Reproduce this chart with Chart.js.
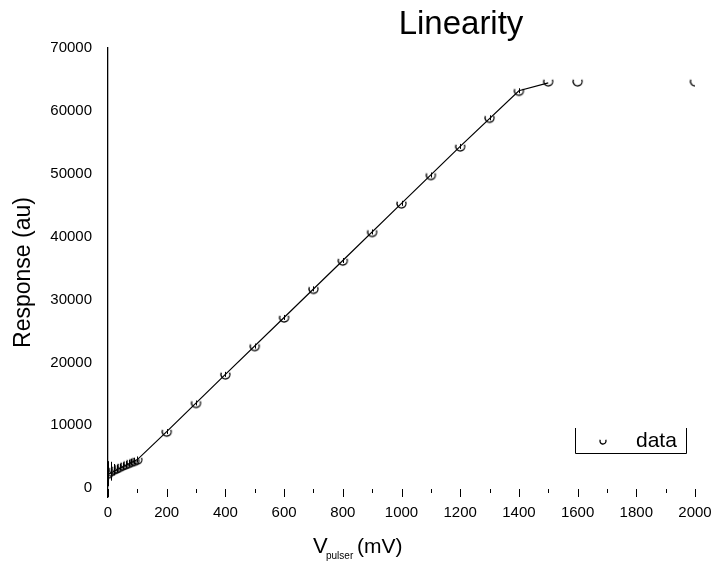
<!DOCTYPE html>
<html>
<head>
<meta charset="utf-8">
<script src="https://cdn.jsdelivr.net/npm/chart.js@4.4.1/dist/chart.umd.min.js"></script>
<style>
  html, body { margin: 0; padding: 0; background: #fff; }
  #wrap { width: 713px; height: 562px; }
</style>
</head>
<body>
<div id="wrap"><canvas id="linChart" width="713" height="562"></canvas></div>
<script>
// pulser voltage (mV) and measured response (au)
const voltages = [0, 10, 20, 30, 40, 50, 60, 70, 80, 90, 100,
  200, 300, 400, 500, 600, 700, 800, 900, 1000, 1100, 1200, 1300, 1400,
  1500, 1600, 2000];
const responses = [2300, 2700, 2950, 3150, 3400, 3600, 3800, 4000, 4200, 4350, 4550,
  9000, 13550, 18100, 22600, 27150, 31700, 36200, 40750, 45300, 49800, 54350, 58900, 63200,
  64700, 64700, 64700];
const errors = [2000, 1500, 900, 600, 500, 500, 500, 500, 500, 500, 500,
  400, 400, 400, 400, 400, 400, 400, 400, 400, 400, 400, 400, 400,
  0, 0, 0];

// fitted curve
const fitVoltages = [0, 50, 100, 200, 400, 600, 800, 1000, 1200, 1400, 1500];
const fitResponses = [2200, 3400, 4550, 9000, 18100, 27150, 36200, 45300, 54350, 63200, 64450];

const xTicks = [0, 200, 400, 600, 800, 1000, 1200, 1400, 1600, 1800, 2000];
const xMinorTicks = [100, 300, 500, 700, 900, 1100, 1300, 1500, 1700, 1900];
const yTicks = [0, 10000, 20000, 30000, 40000, 50000, 60000, 70000];

const FONT = 'Arial, "Liberation Sans", sans-serif';

// open "U" marker
function makeMarker(r) {
  const c = document.createElement('canvas');
  const s = Math.ceil(r * 2 + 4);
  c.width = s; c.height = s;
  const g = c.getContext('2d');
  g.strokeStyle = '#000';
  g.lineWidth = 1.3;
  g.beginPath();
  g.arc(s / 2, s / 2, r, -0.4, Math.PI + 0.4);
  g.stroke();
  return c;
}
const marker = makeMarker(4.5);
const legendMarker = makeMarker(3);

const extras = {
  id: 'extras',
  afterDatasetsDraw(chart) {
    const { ctx, scales: { x, y } } = chart;
    ctx.save();
    ctx.strokeStyle = '#000';
    ctx.lineWidth = 1;
    // error bars
    voltages.forEach((v, i) => {
      if (!errors[i]) return;
      const px = Math.round(x.getPixelForValue(v)) + 0.5;
      ctx.beginPath();
      ctx.moveTo(px, y.getPixelForValue(responses[i] - errors[i]));
      ctx.lineTo(px, y.getPixelForValue(responses[i] + errors[i]));
      ctx.stroke();
    });
    // x tick marks (no axis line)
    const base = y.bottom;
    xTicks.forEach(v => {
      const px = Math.round(x.getPixelForValue(v)) + 0.5;
      ctx.beginPath(); ctx.moveTo(px, base - 8); ctx.lineTo(px, base); ctx.stroke();
    });
    xMinorTicks.forEach(v => {
      const px = Math.round(x.getPixelForValue(v)) + 0.5;
      ctx.beginPath(); ctx.moveTo(px, base - 8); ctx.lineTo(px, base - 4); ctx.stroke();
    });
    ctx.restore();
  },
  afterDraw(chart) {
    const { ctx } = chart;
    ctx.save();
    ctx.fillStyle = '#000';
    // title
    ctx.font = '33px ' + FONT;
    ctx.textAlign = 'center';
    ctx.textBaseline = 'middle';
    ctx.fillText('Linearity', 461, 25);
    // x axis title with subscript
    ctx.textAlign = 'left';
    ctx.textBaseline = 'alphabetic';
    ctx.font = '22px ' + FONT;
    ctx.fillText('V', 313, 553);
    ctx.font = '10px ' + FONT;
    ctx.fillText('pulser', 326, 559);
    ctx.font = '21px ' + FONT;
    ctx.fillText('(mV)', 357, 553);
    // legend box
    ctx.strokeStyle = '#000';
    ctx.lineWidth = 1;
    ctx.beginPath();
    ctx.moveTo(575.5, 428); ctx.lineTo(575.5, 453.5);
    ctx.lineTo(686.5, 453.5); ctx.lineTo(686.5, 428);
    ctx.stroke();
    ctx.drawImage(legendMarker, 603 - legendMarker.width / 2, 441 - legendMarker.height / 2);
    ctx.font = '21px ' + FONT;
    ctx.textBaseline = 'middle';
    ctx.fillText('data', 636, 441);
    ctx.restore();
  }
};

new Chart(document.getElementById('linChart').getContext('2d'), {
  type: 'scatter',
  data: {
    datasets: [
      {
        label: 'fit',
        data: fitVoltages.map((v, i) => ({ x: v, y: fitResponses[i] })),
        showLine: true,
        borderColor: '#000',
        borderWidth: 1.2,
        pointRadius: 0,
        tension: 0
      },
      {
        label: 'data',
        data: voltages.map((v, i) => ({ x: v, y: responses[i] })),
        showLine: false,
        pointStyle: marker,
        pointRadius: 4.5
      }
    ]
  },
  options: {
    responsive: false,
    animation: false,
    layout: { padding: { left: 0, right: 18, top: 48, bottom: 0 } },
    plugins: {
      legend: { display: false },
      tooltip: { enabled: false }
    },
    scales: {
      x: {
        type: 'linear',
        min: 0,
        max: 2000,
        grid: { display: false, drawTicks: false },
        border: { display: false },
        afterBuildTicks: s => { s.ticks = xTicks.map(v => ({ value: v })); },
        afterFit: s => { s.height = 65; s.paddingRight = 0; s.paddingLeft = 0; },
        ticks: {
          padding: 7,
          color: '#000',
          font: { family: FONT, size: 15 },
          maxRotation: 0,
          callback: v => String(v)
        }
      },
      y: {
        type: 'linear',
        min: -1400,
        max: 70000,
        grid: { display: false, drawTicks: false },
        border: { display: true, color: '#000', width: 1.3 },
        afterBuildTicks: s => { s.ticks = yTicks.map(v => ({ value: v })); },
        afterFit: s => { s.width = 108; },
        title: {
          display: true,
          text: 'Response (au)',
          color: '#000',
          font: { family: FONT, size: 23 },
          padding: { top: 10, bottom: 0 }
        },
        ticks: {
          padding: 16,
          color: '#000',
          font: { family: FONT, size: 15 },
          callback: v => String(v)
        }
      }
    }
  },
  plugins: [extras]
});
</script>
</body>
</html>
